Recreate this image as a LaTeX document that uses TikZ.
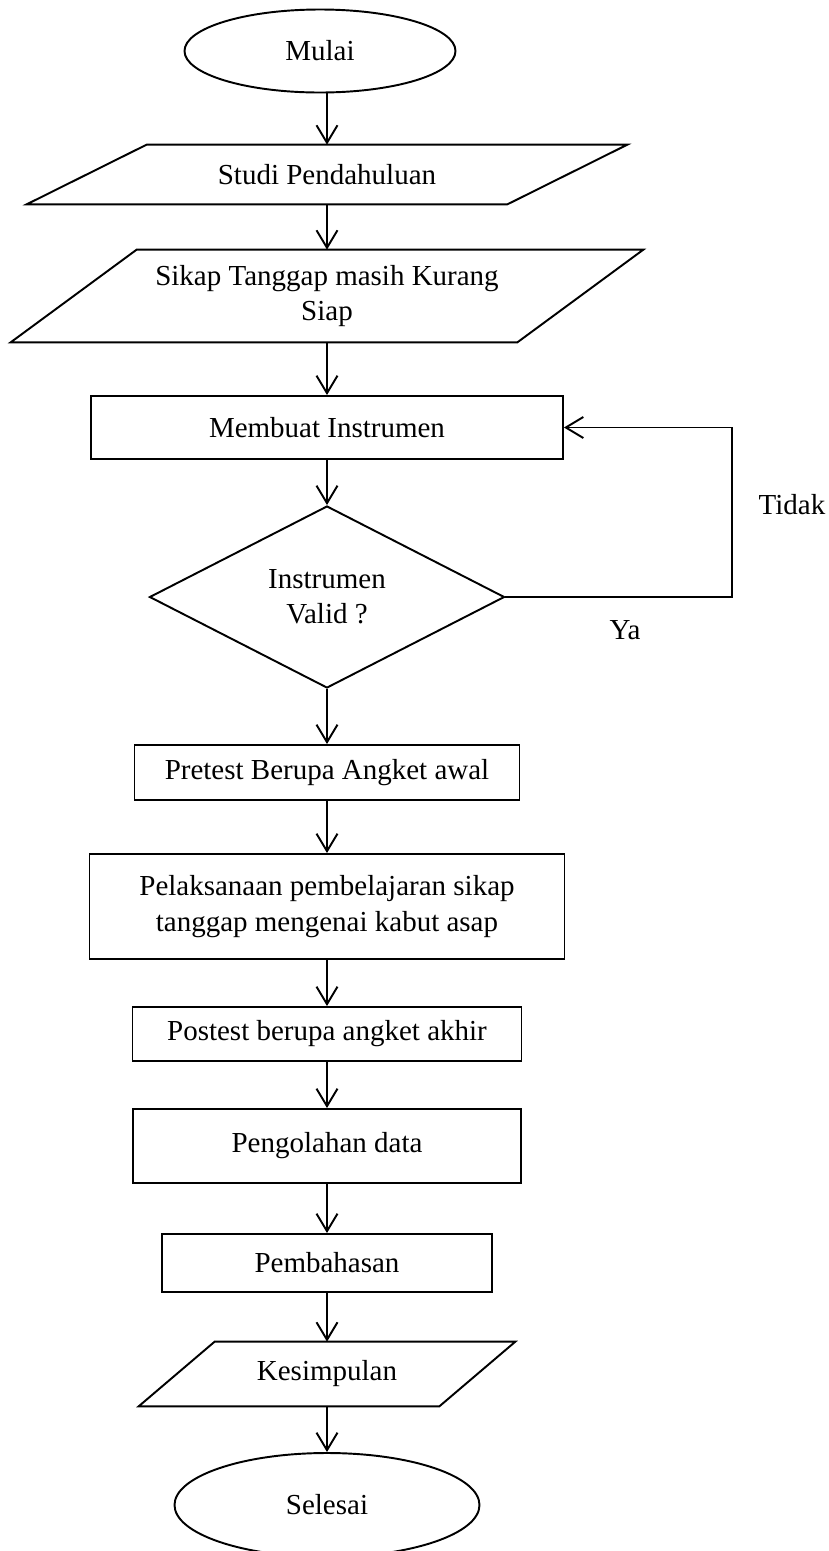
\documentclass[tikz,border=0pt]{standalone}
\usepackage{fontspec}
\setmainfont{Liberation Serif}
\usetikzlibrary{shapes.geometric,arrows.meta}
\begin{document}
\begin{tikzpicture}[
  every node/.style={font=\fontsize{16.5}{20}\selectfont},
  box/.style={draw,line width=1.1pt,rectangle,align=center,inner sep=0pt},
  term/.style={draw,line width=1.1pt,ellipse,inner sep=0pt},
  io/.style={rectangle,align=center,inner sep=0pt},
  cond/.style={draw,line width=1.1pt,diamond,aspect=2,align=center,inner sep=0pt},
  arr/.style={-{Straight Barb[length=3.5mm,width=4.2mm]},line width=1.1pt}]
\useasboundingbox (0,0) rectangle (16.58,-31.02);
\node[term,minimum width=5.42cm,minimum height=1.66cm] (mulai) at (6.40,-1.02) {Mulai};
\node[io,minimum width=9.6cm,minimum height=1.18cm] (studi) at (6.54,-3.49) {Studi Pendahuluan};
\node[io,minimum width=10.12cm,minimum height=1.84cm] (sikap) at (6.54,-5.92) {Sikap Tanggap masih Kurang\\Siap};
\node[box,minimum width=9.44cm,minimum height=1.26cm] (membuat) at (6.54,-8.55) {Membuat Instrumen};
\node[cond,minimum width=7.10cm,minimum height=3.64cm] (valid) at (6.54,-11.94) {Instrumen\\Valid ?};
\node[box,minimum width=7.70cm,minimum height=1.10cm] (pretest) at (6.54,-15.45) {Pretest Berupa Angket awal};
\node[box,minimum width=9.50cm,minimum height=2.10cm] (pelaksanaan) at (6.54,-18.13) {Pelaksanaan pembelajaran sikap\\tanggap mengenai kabut asap};
\node[box,minimum width=7.78cm,minimum height=1.08cm] (postest) at (6.54,-20.68) {Postest berupa angket akhir};
\node[box,minimum width=7.76cm,minimum height=1.48cm] (olah) at (6.54,-22.92) {Pengolahan data};
\node[box,minimum width=6.60cm,minimum height=1.16cm] (bahas) at (6.54,-25.26) {Pembahasan};
\node[io,minimum width=6.00cm,minimum height=1.28cm] (simpul) at (6.54,-27.48) {Kesimpulan};
\node[term,minimum width=6.10cm,minimum height=2.08cm] (selesai) at (6.54,-30.10) {Selesai};
% slanted input/output boxes
\draw[line width=1.1pt] ([xshift=1.2cm]studi.north west) -- ([xshift=1.2cm]studi.north east) -- ([xshift=-1.2cm]studi.south east) -- ([xshift=-1.2cm]studi.south west) -- cycle;
\draw[line width=1.1pt] ([xshift=1.26cm]sikap.north west) -- ([xshift=1.26cm]sikap.north east) -- ([xshift=-1.26cm]sikap.south east) -- ([xshift=-1.26cm]sikap.south west) -- cycle;
\draw[line width=1.1pt] ([xshift=0.76cm]simpul.north west) -- ([xshift=0.76cm]simpul.north east) -- ([xshift=-0.76cm]simpul.south east) -- ([xshift=-0.76cm]simpul.south west) -- cycle;
% main flow
\draw[arr] (mulai.south -| studi.north) -- (studi.north);
\draw[arr] (studi) -- (sikap);
\draw[arr] (sikap) -- (membuat);
\draw[arr] (membuat) -- (valid);
\draw[arr] (valid) -- (pretest);
\draw[arr] (pretest) -- (pelaksanaan);
\draw[arr] (pelaksanaan) -- (postest);
\draw[arr] (postest) -- (olah);
\draw[arr] (olah) -- (bahas);
\draw[arr] (bahas) -- (simpul);
\draw[arr] (simpul) -- (selesai);
% loop back
\coordinate (turn) at (14.64,-8.55);
\draw[arr] (valid.east) -- (valid.east -| turn) -- (turn) -- (membuat.east);
\node (tidak) at (15.84,-10.10) {Tidak};
\node (ya) at (12.50,-12.60) {Ya};
\end{tikzpicture}
\end{document}
